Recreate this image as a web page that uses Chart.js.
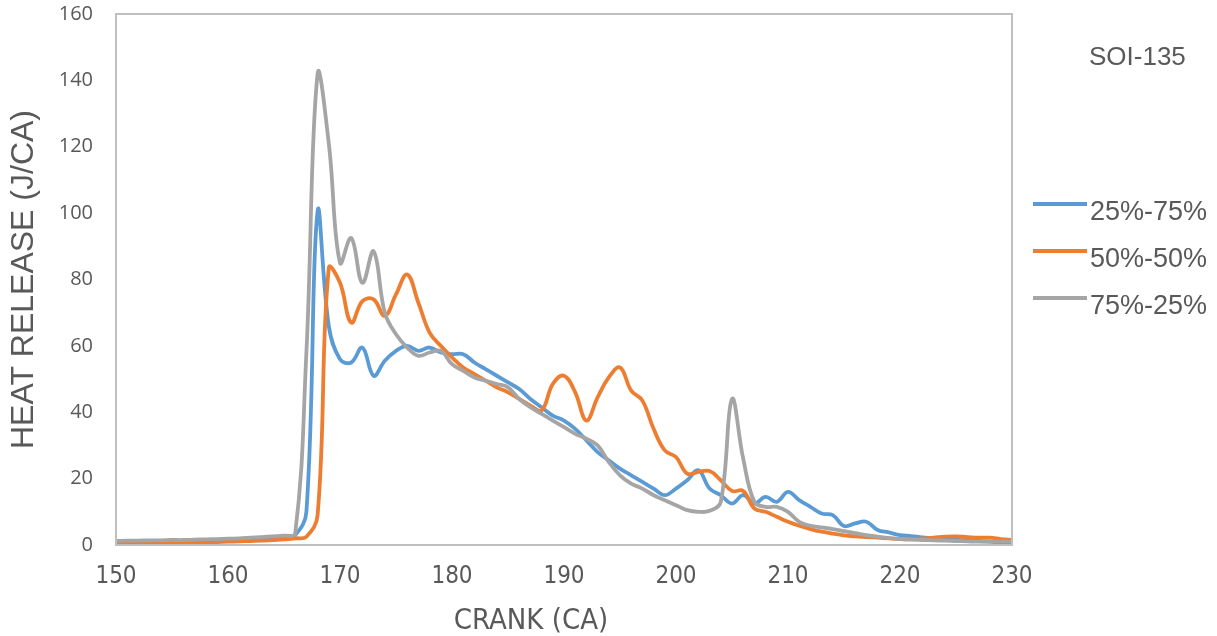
<!DOCTYPE html>
<html>
<head>
<meta charset="utf-8">
<title>Heat release vs crank angle</title>
<script src="https://cdn.jsdelivr.net/npm/chart.js@4.4.1/dist/chart.umd.min.js"></script>
<style>
  html, body { margin: 0; padding: 0; background: #fff; }
  #wrap { width: 1217px; height: 636px; }
</style>
</head>
<body>
<div id="wrap"><canvas id="hrChart" width="1217" height="636"></canvas></div>
<script>
// Crank angle (deg CA), one sample per degree
const crank = [];
for (let a = 150; a <= 230; a++) crank.push(a);

// Heat release rate (J/CA) for each blend ratio
const hr2575 = [
  1.0, 1.0, 1.0, 1.0, 1.0, 1.0, 1.0, 1.0, 1.1, 1.2,
  1.3, 1.4, 1.5, 1.7, 1.9, 2.2, 3.0, 10, 100.5, 66,
  56, 55, 59.5, 51, 55.5, 58.5, 60, 58.5, 59.5, 58,
  57.5, 57.5, 55, 53, 51, 49, 47, 44, 41.5, 39,
  37.5, 35, 31.5, 28, 25.5, 23, 21, 19, 17, 15,
  17, 19.5, 22.5, 17, 15, 12.5, 15, 12.5, 14.5, 13,
  16, 13.5, 11.5, 9.5, 9, 5.7, 6.5, 7, 4.5, 3.8,
  3.0, 2.7, 2.3, 2.0, 1.8, 1.6, 1.4, 1.2, 1.0, 0.8,
  0.6
];
const hr5050 = [
  0.5, 0.5, 0.5, 0.6, 0.6, 0.6, 0.7, 0.7, 0.8, 0.9,
  1.0, 1.1, 1.2, 1.3, 1.5, 1.7, 2.0, 2.5, 9, 83.5,
  79, 67, 73.5, 74, 69, 75.5, 81.5, 73, 64, 60,
  56.5, 53.5, 51.5, 49.5, 47.5, 46, 44, 42, 40.5, 48.5,
  51, 46, 37.5, 44.5, 50.5, 53.5, 46.5, 43.5, 35, 28.5,
  26.5, 21.5, 22, 22.3, 19.5, 16.3, 16.3, 11, 10, 8.5,
  7, 5.8, 4.8, 4.0, 3.4, 2.9, 2.6, 2.4, 2.2, 2.0,
  1.8, 1.8, 2.0, 2.2, 2.5, 2.6, 2.4, 2.2, 2.2, 1.8,
  1.5
];
const hr7525 = [
  1.2, 1.3, 1.3, 1.4, 1.4, 1.5, 1.5, 1.6, 1.7, 1.8,
  1.9, 2.0, 2.2, 2.4, 2.6, 2.8, 3.5, 58, 142, 121,
  85, 92.5, 79, 88.5, 70, 63.5, 59.5, 57, 58, 58.5,
  54.5, 52.5, 50.5, 49.5, 48.5, 47.5, 44, 41.5, 39.5, 37.5,
  35.5, 33.5, 32, 30, 25, 21, 18.5, 17, 15, 13.5,
  12, 10.5, 10, 10.3, 13, 44, 26, 13, 11.5, 11.5,
  10, 7, 5.8, 5.3, 4.8, 4.2, 3.6, 3.0, 2.5, 2.1,
  1.8, 1.6, 1.5, 1.4, 1.3, 1.2, 1.1, 1.0, 1.0, 1.0,
  1.0
];

const seriesNames = ['25%-75%', '50%-50%', '75%-25%'];
const seriesColors = ['#5B9BD5', '#ED7D31', '#A5A5A5'];
const caseLabel = 'SOI-135';
const xTitle = 'CRANK (CA)';
const yTitle = 'HEAT RELEASE (J/CA)';

const textColor = '#595959';
const narrowFont = '"Liberation Sans Narrow", "DejaVu Sans Condensed", sans-serif';

const toPoints = (ys) => ys.map((y, i) => ({ x: crank[i], y: y }));

// Box around the plotting area
const frame = {
  id: 'frame',
  afterDatasetsDraw(chart) {
    const { ctx, chartArea: a } = chart;
    ctx.save();
    ctx.strokeStyle = '#BFBFBF';
    ctx.lineWidth = 2;
    ctx.strokeRect(a.left, a.top, a.right - a.left, a.bottom - a.top);
    ctx.restore();
  }
};

// x title, case label and series key
const sideKey = {
  id: 'sideKey',
  afterDraw(chart) {
    const ctx = chart.ctx;
    ctx.save();
    ctx.fillStyle = textColor;
    ctx.textBaseline = 'middle';

    ctx.textAlign = 'center';
    ctx.font = '29px ' + narrowFont;
    ctx.fillText(xTitle, 531, 621);

    ctx.textAlign = 'left';
    ctx.font = '26px "Liberation Sans", Arial, sans-serif';
    ctx.fillText(caseLabel, 1089, 58);

    ctx.font = '27px "Liberation Sans", Arial, sans-serif';
    chart.data.datasets.forEach((ds, i) => {
      const y = 204 + i * 47;
      ctx.strokeStyle = ds.borderColor;
      ctx.lineWidth = 4;
      ctx.beginPath();
      ctx.moveTo(1033, y);
      ctx.lineTo(1087, y);
      ctx.stroke();
      ctx.fillStyle = textColor;
      ctx.fillText(ds.label, 1090, y + 9);
    });
    ctx.restore();
  }
};

const datasets = [hr2575, hr5050, hr7525].map((ys, i) => ({
  label: seriesNames[i],
  data: toPoints(ys),
  borderColor: seriesColors[i],
  backgroundColor: seriesColors[i],
  borderWidth: 3.8,
  pointRadius: 0,
  tension: 0.4,
  fill: false,
  order: 3 - i
}));

new Chart(document.getElementById('hrChart'), {
  type: 'line',
  data: { datasets },
  options: {
    responsive: false,
    animation: false,
    layout: { padding: { top: 14, right: 205, left: 0, bottom: 0 } },
    plugins: {
      legend: { display: false },
      tooltip: { enabled: false }
    },
    scales: {
      x: {
        type: 'linear',
        min: 150,
        max: 230,
        afterFit: (s) => { s.height = 91; s.paddingLeft = 0; s.paddingRight = 0; },
        ticks: {
          stepSize: 10,
          padding: 17,
          color: textColor,
          font: { family: narrowFont, size: 24 }
        },
        grid: { display: false, drawTicks: false },
        border: { display: false }
      },
      y: {
        min: 0,
        max: 160,
        afterFit: (s) => { s.width = 116; s.paddingTop = 0; s.paddingBottom = 0; },
        ticks: {
          stepSize: 20,
          padding: 23,
          color: textColor,
          font: { family: '"Open Sans", sans-serif', size: 20 }
        },
        grid: { display: false, drawTicks: false },
        border: { display: false },
        title: {
          display: true,
          text: yTitle,
          color: textColor,
          padding: { top: 5, bottom: 0 },
          font: { family: '"Liberation Sans", Arial, sans-serif', size: 32 }
        }
      }
    }
  },
  plugins: [frame, sideKey]
});
</script>
</body>
</html>
